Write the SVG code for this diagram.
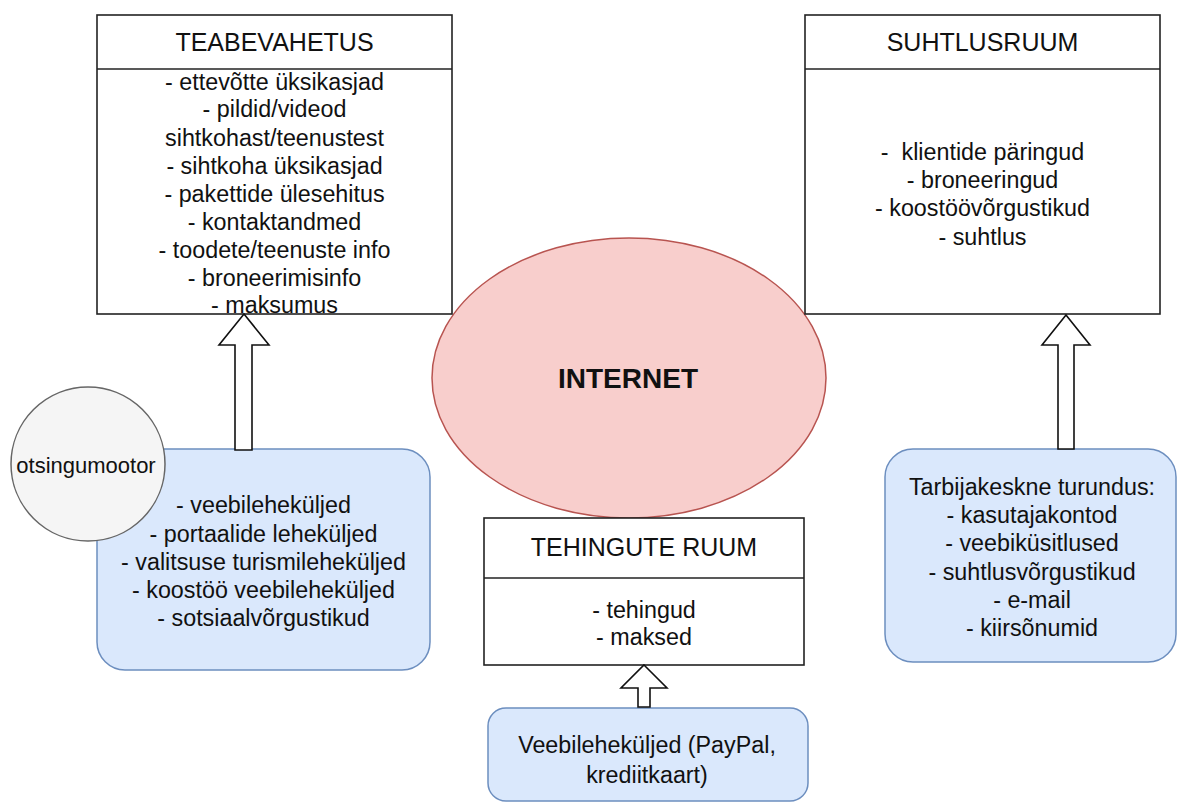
<svg xmlns="http://www.w3.org/2000/svg" width="1177" height="802" viewBox="0 0 1177 802">
  <style>
    text { font-family: "Liberation Sans", Arial, Helvetica, sans-serif; font-size: 23.3px; fill: #111; text-anchor: middle; dominant-baseline: central; }
    .box { fill: #ffffff; stroke: #222; stroke-width: 1.6; }
    .blue { fill: #dae8fc; stroke: #6c8ebf; stroke-width: 1.5; }
    .arrow { fill: #ffffff; stroke: #111; stroke-width: 1.6; stroke-linejoin: miter; }
    .title { font-size: 25px; }
    .small { font-size: 22px; }
    .bold { font-weight: bold; font-size: 28px; }
  </style>

  <!-- central cloud -->
  <g id="internet">
    <ellipse cx="629" cy="378" rx="197" ry="140" fill="#f8cecc" stroke="#b85450" stroke-width="1.5"/>
    <text class="bold" x="628" y="378">INTERNET</text>
  </g>

  <!-- information exchange space -->
  <g id="teabevahetus">
    <rect class="box" x="97" y="15" width="355" height="299"/>
    <line x1="97" y1="69" x2="452" y2="69" stroke="#222" stroke-width="1.6"/>
    <text class="title" x="274.5" y="42">TEABEVAHETUS</text>
    <text x="274.5" y="82">- ettevõtte üksikasjad</text>
    <text x="274.5" y="109">- pildid/videod</text>
    <text x="274.5" y="138">sihtkohast/teenustest</text>
    <text x="274.5" y="166">- sihtkoha üksikasjad</text>
    <text x="274.5" y="194">- pakettide ülesehitus</text>
    <text x="274.5" y="222">- kontaktandmed</text>
    <text x="274.5" y="250">- toodete/teenuste info</text>
    <text x="274.5" y="278">- broneerimisinfo</text>
    <text x="274.5" y="305">- maksumus</text>
  </g>

  <!-- communication space -->
  <g id="suhtlusruum">
    <rect class="box" x="805" y="15" width="355" height="299"/>
    <line x1="805" y1="69" x2="1160" y2="69" stroke="#222" stroke-width="1.6"/>
    <text class="title" x="982.5" y="42">SUHTLUSRUUM</text>
    <text x="982.5" y="152" xml:space="preserve">-  klientide päringud</text>
    <text x="982.5" y="180">- broneeringud</text>
    <text x="982.5" y="208">- koostöövõrgustikud</text>
    <text x="982.5" y="237">- suhtlus</text>
  </g>

  <!-- transaction space -->
  <g id="tehingute-ruum">
    <rect class="box" x="484" y="518" width="320" height="147"/>
    <line x1="484" y1="578" x2="804" y2="578" stroke="#222" stroke-width="1.6"/>
    <text class="title" x="644" y="547">TEHINGUTE RUUM</text>
    <text x="644" y="610">- tehingud</text>
    <text x="644" y="637">- maksed</text>
  </g>

  <!-- sources -->
  <g id="veebilehed">
    <rect class="blue" x="97" y="449" width="333" height="221" rx="28" ry="28"/>
    <text x="263.5" y="505">- veebileheküljed</text>
    <text x="263.5" y="534">- portaalide leheküljed</text>
    <text x="263.5" y="562">- valitsuse turismileheküljed</text>
    <text x="263.5" y="590">- koostöö veebileheküljed</text>
    <text x="263.5" y="618">- sotsiaalvõrgustikud</text>
  </g>

  <g id="otsingumootor">
    <circle cx="88" cy="464" r="77" fill="#f5f5f5" stroke="#666" stroke-width="1.5"/>
    <text class="small" x="86" y="465">otsingumootor</text>
  </g>

  <g id="turundus">
    <rect class="blue" x="885" y="449" width="291" height="213" rx="28" ry="28"/>
    <text x="1032" y="487">Tarbijakeskne turundus:</text>
    <text x="1032" y="515">- kasutajakontod</text>
    <text x="1032" y="543">- veebiküsitlused</text>
    <text x="1032" y="572">- suhtlusvõrgustikud</text>
    <text x="1032" y="600">- e-mail</text>
    <text x="1032" y="628">- kiirsõnumid</text>
  </g>

  <g id="maksevahendid">
    <rect class="blue" x="488" y="708" width="320" height="93" rx="18" ry="18"/>
    <text x="647" y="745">Veebileheküljed (PayPal,</text>
    <text x="647" y="775">krediitkaart)</text>
  </g>

  <!-- block arrows -->
  <g id="connectors">
    <polygon class="arrow" points="244,314 269,345 252,345 252,450 235,450 235,345 219,345"/>
    <polygon class="arrow" points="1066,315 1090,345 1074,345 1074,449 1058,449 1058,345 1042,345"/>
    <polygon class="arrow" points="644,665 667,688 650,688 650,707 638,707 638,688 621,688"/>
  </g>
</svg>
